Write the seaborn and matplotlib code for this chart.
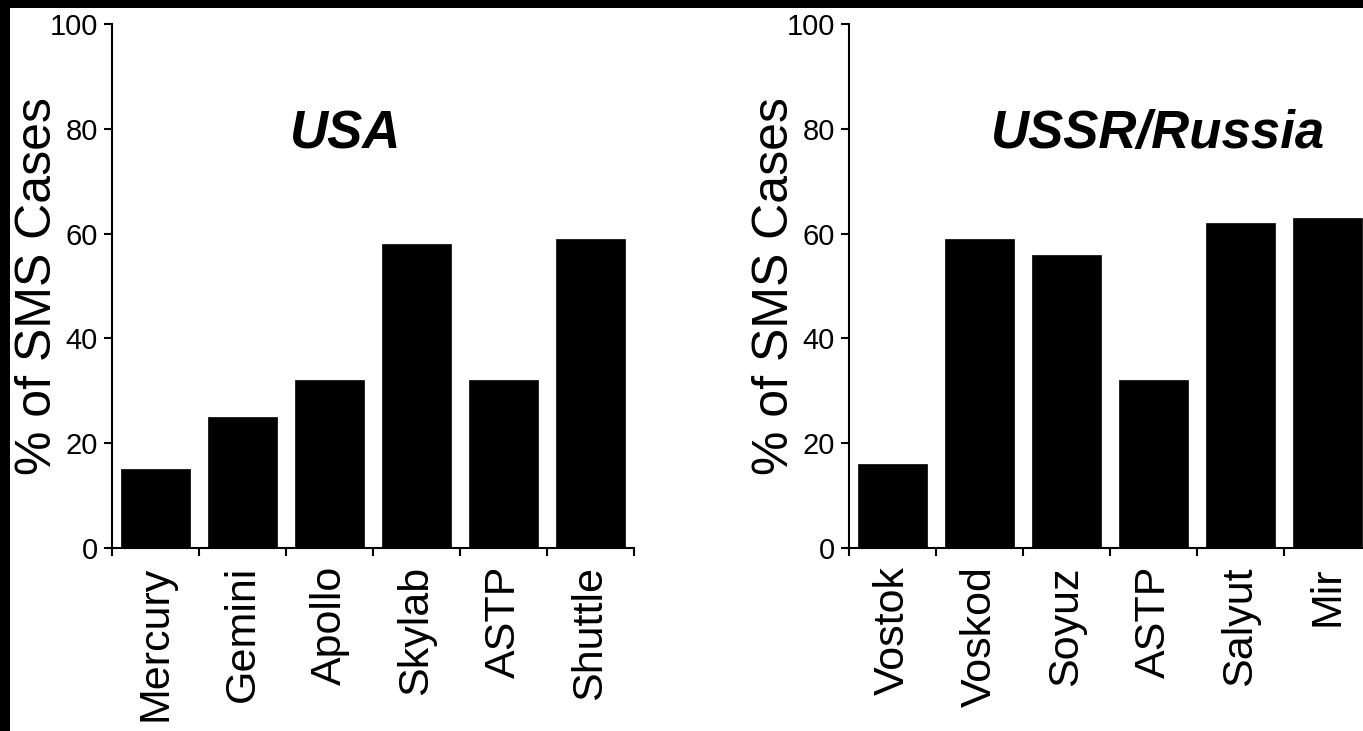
import numpy as np
import pandas as pd
import matplotlib
matplotlib.use("Agg")
import matplotlib.pyplot as plt
import matplotlib.ticker as mticker
import seaborn as sns
from matplotlib.patches import Rectangle

usa_programs = ["Mercury", "Gemini", "Apollo", "Skylab", "ASTP", "Shuttle"]
usa_pct = [15, 25, 32, 58, 32, 59]
ussr_programs = ["Vostok", "Voskod", "Soyuz", "ASTP", "Salyut", "Mir"]
ussr_pct = [16, 59, 56, 32, 62, 63]
y_ticks = [0, 20, 40, 60, 80, 100]
y_label = "% of SMS Cases"
titles = ["USA", "USSR/Russia"]

sns.set_style("ticks")
plt.rcParams["font.family"] = ["Liberation Sans", "DejaVu Sans"]
plt.rcParams.update({"text.color": "black", "axes.labelcolor": "black",
                     "xtick.color": "black", "ytick.color": "black"})

W, H = 1363, 731
fig = plt.figure(figsize=(W / 100, H / 100), dpi=100, facecolor="black")
fig.add_artist(Rectangle((10 / W, 0), 1, (H - 8) / H, transform=fig.transFigure,
                         facecolor="white", edgecolor="none", zorder=-10))

ax1 = fig.add_axes([112 / W, 183 / H, 522 / W, 524 / H], facecolor="none")
ax2 = fig.add_axes([849 / W, 183 / H, 522 / W, 524 / H], facecolor="none")

panels = [
    (ax1, usa_programs, usa_pct, titles[0], 2.18),
    (ax2, ussr_programs, ussr_pct, titles[1], 3.05),
]

for ax, progs, vals, title, tx in panels:
    df = pd.DataFrame({"program": progs, "pct": vals})
    sns.barplot(data=df, x="program", y="pct", color="black", saturation=1,
                width=0.8, edgecolor="black", linewidth=0.5, ax=ax)
    ax.set_ylim(0, 100)
    ax.set_xlim(-0.5, len(progs) - 0.5)
    ax.set_yticks(y_ticks)
    ax.tick_params(axis="y", labelsize=21, length=6, width=1.5, direction="out", pad=4)
    ax.set_xticks(np.arange(-0.5, len(progs), 1.0))
    ax.xaxis.set_major_formatter(mticker.NullFormatter())
    ax.set_xticks(range(len(progs)), minor=True)
    ax.set_xticklabels(progs, minor=True, rotation=90, fontsize=31)
    ax.tick_params(axis="x", which="major", length=6, width=1.5, direction="out")
    ax.tick_params(axis="x", which="minor", length=0, pad=13)
    for s in ["top", "right"]:
        ax.spines[s].set_visible(False)
    for s in ["left", "bottom"]:
        ax.spines[s].set_linewidth(1.5)
        ax.spines[s].set_color("black")
    ax.set_xlabel("")
    ax.set_ylabel(y_label, fontsize=36, labelpad=-8)
    ax.text(tx, 79, title, fontsize=38, fontweight="bold", fontstyle="italic",
            ha="center", va="center", color="black")

fig.savefig("out.png", dpi=100, facecolor=fig.get_facecolor())
